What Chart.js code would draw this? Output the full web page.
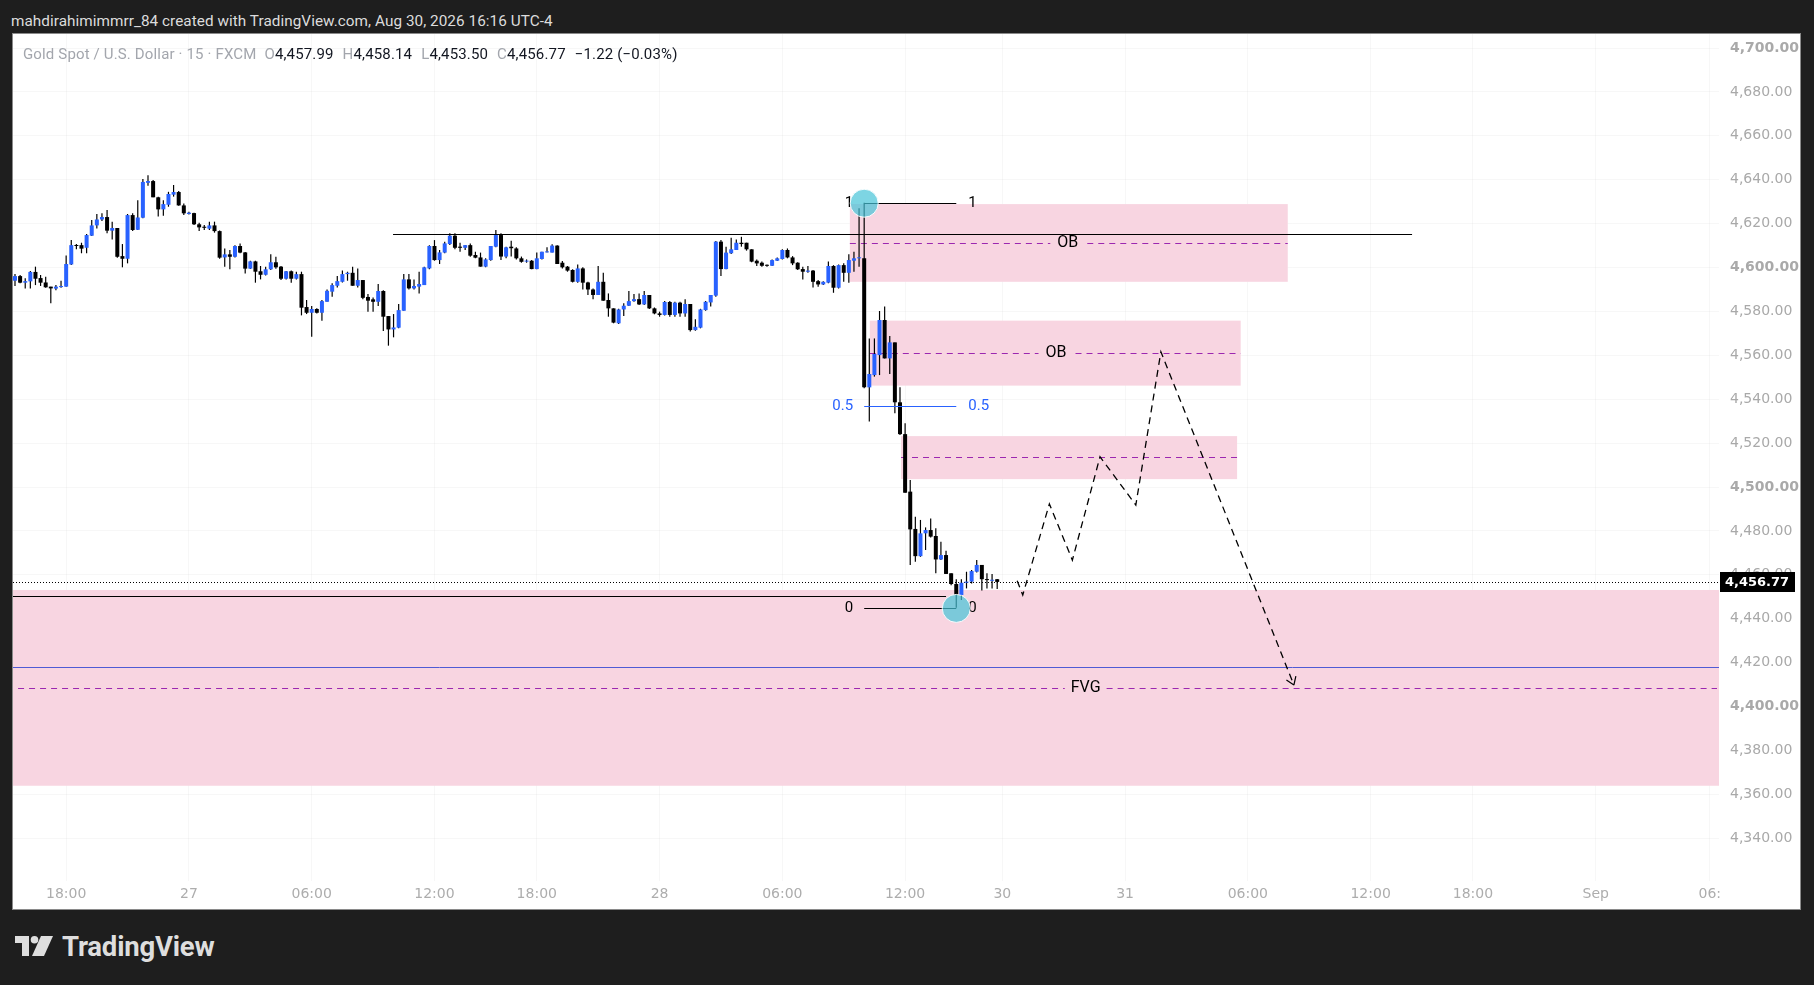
<!DOCTYPE html>
<html>
<head>
<meta charset="utf-8">
<script src="https://cdn.jsdelivr.net/npm/chart.js@4.4.1/dist/chart.umd.min.js"></script>
<style>
  html, body { margin:0; padding:0; width:1814px; height:985px; overflow:hidden; background:#1e1e1e; font-family:Roboto, "Noto Sans", sans-serif; }
  #hdr { position:absolute; left:11px; top:12px; color:#dcdcdc; font-size:15.3px; letter-spacing:0.05px; white-space:nowrap; }
  #panel { position:absolute; left:12px; top:33px; width:1787px; height:875px; background:#ffffff; border:1px solid #8a8a8a; }
  #panel canvas { position:absolute; left:0; top:0; }
  #legend { position:absolute; left:10px; top:11px; font-size:15px; letter-spacing:0.15px; color:#131722; white-space:nowrap; z-index:2; }
  #legend .g { color:#a3a6ad; }
  #legend .v { margin-right:9px; }
  #logo { position:absolute; left:15px; top:928px; height:36px; display:flex; align-items:center; color:#dedede; }
  #logo span { font-size:27.5px; font-weight:700; margin-left:9px; letter-spacing:-0.2px; }
</style>
</head>
<body>
<div id="hdr">mahdirahimimmrr_84 created with TradingView.com, Aug 30, 2026 16:16 UTC-4</div>
<div id="panel">
  <div id="legend"><span class="g" style="margin-right:8px">Gold Spot / U.S. Dollar · 15 · FXCM</span><span class="g">O</span><span class="v">4,457.99</span><span class="g">H</span><span class="v">4,458.14</span><span class="g">L</span><span class="v">4,453.50</span><span class="g">C</span><span class="v">4,456.77</span><span>−1.22 (−0.03%)</span></div>
  <canvas id="c" width="1787" height="875" style="width:1787px;height:875px"></canvas>
</div>
<div id="logo">
  <svg width="38" height="20" viewBox="0 0 38 20"><path d="M0 0H14V20H7V7H0Z" fill="#dedede"/><circle cx="19.5" cy="3.8" r="3.8" fill="#dedede"/><path d="M26 0H38L29 20H17Z" fill="#dedede"/></svg>
  <span>TradingView</span>
</div>
<script>
// ---------- data (15-minute candles, XAU/USD) ----------
const openArr = [
4594.0,4596.1,4593.1,4593.7,4598.0,4595.2,4593.2,4591.3,4590.4,4591.1,
4591.3,4601.4,4610.2,4610.2,4609.0,4614.5,4619.2,4621.9,4623.0,4616.8,
4618.0,4605.2,4604.0,4623.9,4617.2,4622.7,4638.6,4639.4,4632.0,4626.5,
4628.6,4633.2,4634.4,4628.3,4624.4,4624.8,4619.7,4618.6,4617.7,4619.2,
4616.6,4604.6,4606.0,4604.9,4609.8,4606.9,4599.5,4602.8,4598.3,4596.7,
4599.2,4602.4,4600.4,4594.9,4598.3,4594.9,4597.0,4582.0,4579.4,4581.1,
4579.4,4584.4,4589.0,4591.7,4593.5,4597.0,4597.6,4591.7,4594.3,4586.6,
4585.5,4584.4,4589.3,4577.9,4571.8,4572.6,4580.3,4594.6,4590.5,4591.3,
4592.0,4599.6,4609.8,4603.4,4606.8,4610.7,4614.5,4609.5,4609.0,4610.2,
4605.7,4604.6,4600.4,4603.4,4609.5,4614.8,4605.0,4609.5,4608.7,4604.2,
4602.7,4603.1,4599.3,4603.9,4606.9,4606.8,4610.0,4602.2,4600.4,4598.9,
4593.5,4599.6,4593.2,4590.0,4587.5,4593.5,4585.2,4581.4,4574.6,4580.9,
4582.6,4584.7,4585.6,4583.2,4587.5,4581.4,4579.1,4578.4,4584.3,4578.4,
4584.0,4579.1,4583.4,4571.5,4572.6,4580.6,4584.1,4587.2,4611.8,4599.3,
4606.5,4608.0,4611.3,4611.3,4608.3,4603.1,4602.2,4601.1,4600.8,4603.1,
4603.9,4608.0,4604.6,4602.2,4599.3,4598.1,4598.6,4593.8,4592.3,4593.1,
4600.7,4590.8,4601.1,4597.6,4603.1,4604.2,4604.2,4545.4,4551.0,4560.1,
4576.1,4558.6,4565.9,4538.6,4524.1,4497.9,4480.9,4468.5,4478.9,4480.4,
4477.7,4467.0,4469.0,4460.7,4455.8,4450.8,4456.4,4456.9,4461.4,4464.5,
4458.0,4457.3,4457.99];
const highArr = [
4597.0,4596.6,4595.1,4598.4,4600.4,4596.6,4595.8,4591.3,4592.0,4594.0,
4605.5,4612.5,4610.7,4611.3,4615.3,4621.6,4624.4,4624.7,4626.2,4620.9,
4618.0,4610.7,4624.4,4624.7,4630.7,4640.3,4642.1,4639.9,4632.3,4630.7,
4634.5,4637.6,4634.9,4629.2,4625.4,4625.0,4620.4,4619.4,4620.9,4620.9,
4616.9,4608.7,4608.0,4610.1,4611.0,4607.1,4603.1,4603.1,4600.7,4600.4,
4606.0,4604.9,4600.7,4598.4,4598.6,4598.1,4598.1,4585.2,4582.5,4581.4,
4585.2,4590.0,4592.8,4596.1,4598.6,4598.1,4600.4,4599.6,4594.3,4587.9,
4586.4,4592.5,4589.7,4577.9,4578.8,4583.4,4597.0,4597.0,4594.6,4598.1,
4600.4,4610.2,4612.5,4608.0,4611.8,4615.6,4615.6,4611.3,4610.3,4611.0,
4607.2,4606.8,4604.2,4609.8,4617.1,4615.6,4609.5,4612.2,4609.2,4605.0,
4603.7,4603.4,4606.8,4607.2,4609.2,4610.6,4610.2,4603.0,4600.7,4599.2,
4601.4,4600.1,4593.5,4590.5,4600.7,4597.6,4588.2,4581.4,4581.2,4583.7,
4589.3,4587.9,4588.2,4589.3,4587.5,4581.8,4579.9,4584.7,4584.7,4584.4,
4584.4,4585.6,4583.4,4576.4,4581.2,4584.7,4587.5,4612.1,4612.5,4609.5,
4613.6,4612.8,4614.0,4611.3,4608.3,4603.7,4602.7,4601.4,4603.7,4604.6,
4608.3,4608.7,4605.2,4602.4,4600.4,4600.7,4598.9,4594.3,4593.8,4602.7,
4601.1,4601.4,4601.9,4606.0,4607.2,4627.0,4629.5,4567.7,4567.7,4580.2,
4582.2,4568.8,4565.9,4545.4,4529.0,4503.2,4486.5,4485.0,4481.6,4485.7,
4481.2,4475.1,4471.0,4460.7,4458.0,4458.0,4461.4,4462.2,4466.7,4464.5,
4460.7,4460.4,4458.14];
const lowArr = [
4591.6,4592.8,4590.5,4590.5,4592.0,4591.6,4590.8,4583.7,4589.7,4590.8,
4591.3,4601.1,4608.3,4606.5,4606.5,4614.4,4617.8,4621.2,4615.6,4612.8,
4604.5,4600.1,4601.9,4616.6,4617.1,4622.4,4637.3,4632.0,4623.2,4623.6,
4627.7,4632.3,4628.2,4623.9,4624.2,4619.4,4616.6,4617.1,4617.1,4615.9,
4604.0,4600.4,4599.2,4604.6,4606.5,4597.3,4599.3,4593.1,4594.6,4596.4,
4598.9,4599.5,4594.3,4594.6,4593.1,4594.6,4578.2,4578.8,4568.5,4579.1,
4575.8,4584.4,4586.7,4590.9,4593.2,4594.0,4591.7,4590.9,4585.5,4579.9,
4579.9,4582.5,4571.1,4564.4,4568.2,4572.3,4580.3,4590.0,4590.0,4588.2,
4592.0,4599.2,4603.1,4601.6,4606.5,4610.3,4608.3,4607.2,4608.0,4604.9,
4604.2,4600.4,4600.1,4603.1,4609.2,4603.4,4604.2,4605.0,4603.7,4602.2,
4602.2,4599.2,4599.2,4603.7,4606.8,4606.8,4601.6,4599.6,4598.1,4593.2,
4593.1,4590.0,4587.5,4585.5,4587.5,4584.9,4577.6,4574.6,4574.3,4577.9,
4582.5,4584.4,4582.9,4582.9,4581.1,4578.7,4577.6,4578.1,4577.6,4577.6,
4577.6,4577.6,4570.8,4571.2,4572.3,4580.3,4582.2,4586.7,4596.1,4599.2,
4606.2,4608.0,4609.5,4607.7,4602.4,4600.7,4600.4,4600.4,4600.7,4603.0,
4603.7,4604.2,4601.1,4598.9,4594.6,4597.6,4590.9,4591.3,4592.0,4592.8,
4588.5,4590.5,4593.5,4593.1,4598.1,4600.4,4545.0,4529.8,4550.3,4551.0,
4558.6,4551.5,4533.6,4523.7,4497.4,4464.5,4466.0,4468.2,4471.3,4477.0,
4460.7,4466.7,4460.4,4455.3,4445.0,4448.5,4453.8,4456.1,4461.1,4452.8,
4453.8,4453.8,4453.50];
const closeArr = [
4596.1,4593.1,4593.8,4598.0,4594.9,4593.1,4591.0,4590.5,4591.3,4591.6,
4601.6,4610.2,4609.8,4608.6,4614.8,4619.2,4621.9,4623.0,4616.8,4618.0,
4604.9,4604.0,4623.9,4617.1,4622.8,4639.0,4639.4,4632.0,4626.5,4628.9,
4633.5,4634.4,4628.3,4624.7,4625.0,4619.7,4618.3,4618.1,4619.2,4616.6,
4604.5,4606.0,4604.9,4609.8,4606.8,4599.5,4602.8,4598.1,4596.7,4599.2,
4602.4,4600.1,4594.9,4598.3,4594.9,4597.0,4581.7,4579.4,4581.1,4579.4,
4584.7,4589.4,4592.0,4593.8,4597.0,4597.6,4591.7,4594.3,4586.2,4584.9,
4584.4,4589.3,4577.6,4571.8,4572.7,4580.6,4594.6,4590.5,4591.6,4592.5,
4600.1,4609.8,4603.4,4606.9,4611.0,4614.5,4609.0,4609.0,4610.2,4605.4,
4604.5,4600.4,4603.7,4609.8,4614.8,4605.0,4609.2,4608.8,4604.2,4602.6,
4603.1,4599.3,4604.2,4607.2,4607.2,4610.0,4601.6,4600.1,4598.6,4593.5,
4599.6,4593.1,4590.0,4587.5,4593.5,4584.9,4581.4,4574.9,4580.9,4582.6,
4584.7,4585.6,4583.2,4587.5,4581.4,4579.1,4578.4,4584.3,4578.4,4584.0,
4579.1,4583.4,4571.5,4573.0,4580.9,4584.4,4587.5,4611.8,4599.3,4606.8,
4608.3,4611.3,4610.7,4608.3,4602.7,4601.9,4600.8,4600.8,4603.4,4604.2,
4608.0,4604.6,4601.9,4599.2,4598.1,4598.6,4593.5,4592.3,4593.5,4600.7,
4590.8,4601.1,4597.6,4603.4,4604.2,4604.5,4545.4,4551.5,4560.6,4576.1,
4558.6,4565.9,4538.6,4524.1,4497.4,4480.7,4468.5,4478.9,4480.4,4477.4,
4467.0,4469.0,4460.4,4455.8,4450.8,4456.4,4456.9,4461.7,4464.5,4458.0,
4457.6,4457.6,4456.77];

// time axis (bar index -> label)
const xTickIdx    = [10, 34, 58, 82, 102, 126, 150, 174, 193, 217, 241, 265, 285, 309, 331.3];
const xTickLabels = ['18:00','27','06:00','12:00','18:00','28','06:00','12:00','30','31','06:00','12:00','18:00','Sep','06:'];
// price axis
const yTickVals = [4340,4360,4380,4400,4420,4440,4460,4480,4500,4520,4540,4560,4580,4600,4620,4640,4660,4680,4700];

// drawings (bar index / price)
const obZones = [
  { x0:163.2, x1:248.8, top:4628.9, bot:4593.5, mid:4611.3, label:'OB', labelX:205.8 },
  { x0:167.1, x1:239.6, top:4575.8, bot:4546.2, mid:4560.9, label:'OB', labelX:203.5 },
  { x0:173.2, x1:238.9, top:4523.2, bot:4503.6, mid:4513.5, label:'',   labelX:0 }
];
const fvgZone = { top:4453.1, bot:4363.9, mid:4408.3, line:4417.9, midStart:0.6, label:'FVG', labelX:209.3 };
const levelLines = [ { price:4615.5, x0:73.9, x1:273.1 }, { price:4450.3, x0:-1, x1:182.0 } ];
const fibFrom = { x:166, price:4629.3 };
const fibTo   = { x:184, price:4444.7 };
const pathX = [195.9, 197.0, 202.2, 206.7, 212.1, 219.1, 224.0, 250.0];
const pathY = [4457.3, 4450.8, 4492.3, 4466.7, 4513.8, 4491.8, 4561.6, 4409.8];
const lastPrice = 4456.77;

const BLUE = '#2962ff', BLACK = '#000000', PINK = '#f8d5e1', PURPLE = '#9c27b0';
const X_MIN = -0.39, X_MAX = 333.1, Y_MIN = 4320.5, Y_MAX = 4706.4;

const bodies = openArr.map((o, i) => ({ x: i, y: [o, closeArr[i]] }));
const wicks  = lowArr.map((l, i) => ({ x: i, y: [l, highArr[i]] }));
const bodyColors = openArr.map((o, i) => closeArr[i] >= o ? BLUE : BLACK);
const pathData = pathX.map((v, i) => ({ x: v, y: pathY[i] }));

const fmt = v => v.toLocaleString('en-US', { minimumFractionDigits: 2, maximumFractionDigits: 2 });

function hDashed(ctx, xa, xb, y, dash, color, w) {
  ctx.save(); ctx.beginPath(); ctx.setLineDash(dash); ctx.strokeStyle = color; ctx.lineWidth = w || 1;
  ctx.moveTo(xa, y); ctx.lineTo(xb, y); ctx.stroke(); ctx.restore();
}

const drawings = {
  id: 'drawings',
  beforeDatasetsDraw(chart) {
    const { ctx, chartArea: a, scales: { x, y } } = chart;
    ctx.save();
    ctx.beginPath(); ctx.rect(a.left, a.top, a.right - a.left, a.bottom - a.top); ctx.clip();
    const fy0 = y.getPixelForValue(fvgZone.top), fy1 = y.getPixelForValue(fvgZone.bot);
    ctx.fillStyle = PINK; ctx.fillRect(a.left, fy0, a.right - a.left, fy1 - fy0);
    obZones.forEach(z => {
      const px0 = x.getPixelForValue(z.x0), px1 = x.getPixelForValue(z.x1);
      const py0 = y.getPixelForValue(z.top), py1 = y.getPixelForValue(z.bot);
      ctx.fillStyle = PINK; ctx.fillRect(px0, py0, px1 - px0, py1 - py0);
    });
    ctx.font = '16px Roboto';
    obZones.forEach(z => {
      const px0 = x.getPixelForValue(z.x0), px1 = x.getPixelForValue(z.x1);
      const my = Math.round(y.getPixelForValue(z.mid)) + 0.5;
      if (z.label) {
        const lx = x.getPixelForValue(z.labelX), tw = ctx.measureText(z.label).width;
        hDashed(ctx, px0, lx - tw / 2 - 7, my, [6, 5], PURPLE);
        hDashed(ctx, lx + tw / 2 + 9, px1, my, [6, 5], PURPLE);
      } else {
        hDashed(ctx, px0, px1, my, [6, 5], PURPLE);
      }
    });
    const bl = Math.round(y.getPixelForValue(fvgZone.line)) + 0.5;
    hDashed(ctx, a.left, a.right, bl, [], '#4f5bd5', 1);
    const fm = Math.round(y.getPixelForValue(fvgZone.mid)) + 0.5;
    const flx = x.getPixelForValue(fvgZone.labelX), ftw = ctx.measureText(fvgZone.label).width;
    hDashed(ctx, x.getPixelForValue(fvgZone.midStart), flx - ftw / 2 - 6, fm, [6, 5], PURPLE);
    hDashed(ctx, flx + ftw / 2 + 6, a.right - 2, fm, [6, 5], PURPLE);
    levelLines.forEach(l => {
      const ly = Math.round(y.getPixelForValue(l.price)) + 0.5;
      hDashed(ctx, x.getPixelForValue(l.x0), x.getPixelForValue(l.x1), ly, [], '#000', 1.2);
    });
    const cy = Math.round(y.getPixelForValue(lastPrice)) + 0.5;
    hDashed(ctx, a.left, a.right, cy, [1, 2], '#000', 1);
    ctx.fillStyle = '#000'; ctx.textAlign = 'center'; ctx.textBaseline = 'middle'; ctx.font = '16px Roboto';
    obZones.forEach(z => { if (z.label) ctx.fillText(z.label, x.getPixelForValue(z.labelX), y.getPixelForValue(z.mid)); });
    ctx.fillText(fvgZone.label, flx, y.getPixelForValue(fvgZone.mid));
    ctx.restore();
  },
  afterDatasetsDraw(chart) {
    const { ctx, scales: { x, y } } = chart;
    ctx.save();
    const fx0 = x.getPixelForValue(fibFrom.x), fx1 = x.getPixelForValue(fibTo.x);
    const levels = [
      { p: fibFrom.price, c: '#000', t: '1' },
      { p: (fibFrom.price + fibTo.price) / 2, c: BLUE, t: '0.5' },
      { p: fibTo.price, c: '#000', t: '0' }
    ];
    ctx.font = '15px Roboto'; ctx.textBaseline = 'middle';
    levels.forEach(l => {
      const ly = Math.round(y.getPixelForValue(l.p)) + 0.5;
      hDashed(ctx, fx0, fx1, ly, [], l.c, 1.2);
      ctx.fillStyle = l.c;
      ctx.textAlign = 'right'; ctx.fillText(l.t, fx0 - 11, ly);
      ctx.textAlign = 'left';  ctx.fillText(l.t, fx1 + 12, ly);
    });
    [fibFrom, fibTo].forEach(p => {
      ctx.beginPath();
      ctx.arc(x.getPixelForValue(p.x), y.getPixelForValue(p.price), 14, 0, Math.PI * 2);
      ctx.fillStyle = 'rgba(70,195,215,0.7)'; ctx.fill();
      ctx.lineWidth = 1; ctx.strokeStyle = 'rgba(255,255,255,0.9)'; ctx.stroke();
    });
    const n = pathX.length;
    const ex = x.getPixelForValue(pathX[n - 1]), ey = y.getPixelForValue(pathY[n - 1]);
    const sx = x.getPixelForValue(pathX[n - 2]), sy = y.getPixelForValue(pathY[n - 2]);
    const ang = Math.atan2(ey - sy, ex - sx);
    ctx.beginPath(); ctx.setLineDash([]); ctx.strokeStyle = '#000'; ctx.lineWidth = 1.2;
    [0.6, -0.6].forEach(d => {
      ctx.moveTo(ex, ey);
      ctx.lineTo(ex - 9 * Math.cos(ang + d), ey - 9 * Math.sin(ang + d));
    });
    ctx.stroke();
    ctx.restore();
  },
  afterDraw(chart) {
    const { ctx, chartArea: a, scales: { y } } = chart;
    const py = y.getPixelForValue(lastPrice);
    ctx.save();
    ctx.fillStyle = '#000';
    ctx.fillRect(a.right + 1, Math.round(py) - 10, 75, 20);
    ctx.fillStyle = '#fff'; ctx.font = 'bold 13px "DejaVu Sans"'; ctx.textAlign = 'left'; ctx.textBaseline = 'middle';
    ctx.fillText(fmt(lastPrice), a.right + 6, Math.round(py) + 0.5);
    ctx.restore();
  }
};

new Chart(document.getElementById('c'), {
  type: 'bar',
  data: {
    datasets: [
      { label: 'body', data: bodies, backgroundColor: bodyColors, borderWidth: 0, barThickness: 4,
        grouped: false, minBarLength: 1, inflateAmount: 0, order: 1 },
      { label: 'wick', data: wicks, backgroundColor: '#000', borderWidth: 0, barThickness: 1.2,
        grouped: false, inflateAmount: 0, order: 2 },
      { type: 'line', label: 'path', data: pathData, borderColor: '#000', borderWidth: 1.3,
        borderDash: [7, 5], pointRadius: 0, tension: 0, fill: false, order: 0 }
    ]
  },
  options: {
    responsive: false, animation: false, devicePixelRatio: 1,
    layout: { padding: 0 },
    plugins: { legend: { display: false }, tooltip: { enabled: false } },
    scales: {
      x: {
        type: 'linear', min: X_MIN, max: X_MAX, offset: false,
        grid: { color: 'rgba(0,0,0,0.03)', drawTicks: false, offset: false },
        border: { display: false },
        afterBuildTicks: s => { s.ticks = xTickIdx.map(v => ({ value: v })); },
        afterFit: s => { s.height = 28; s.paddingLeft = 0; s.paddingRight = 0; },
        ticks: { autoSkip: false, maxRotation: 0, minRotation: 0, padding: 5, color: '#adadad',
                 font: { family: 'DejaVu Sans', size: 14 }, callback: (v, i) => xTickLabels[i] }
      },
      y: {
        type: 'linear', position: 'right', min: Y_MIN, max: Y_MAX,
        grid: { color: 'rgba(0,0,0,0.03)', drawTicks: false },
        border: { display: false },
        afterBuildTicks: s => { s.ticks = yTickVals.map(v => ({ value: v })); },
        afterFit: s => { s.width = 81; s.paddingTop = 0; s.paddingBottom = 0; },
        ticks: { padding: 11, color: '#a9a9a9',
                 font: c => ({ family: 'DejaVu Sans', size: 14, weight: (c.tick && c.tick.value % 100 === 0) ? 'bold' : 'normal' }),
                 callback: v => fmt(v) }
      }
    }
  },
  plugins: [drawings]
});
</script>
</body>
</html>
